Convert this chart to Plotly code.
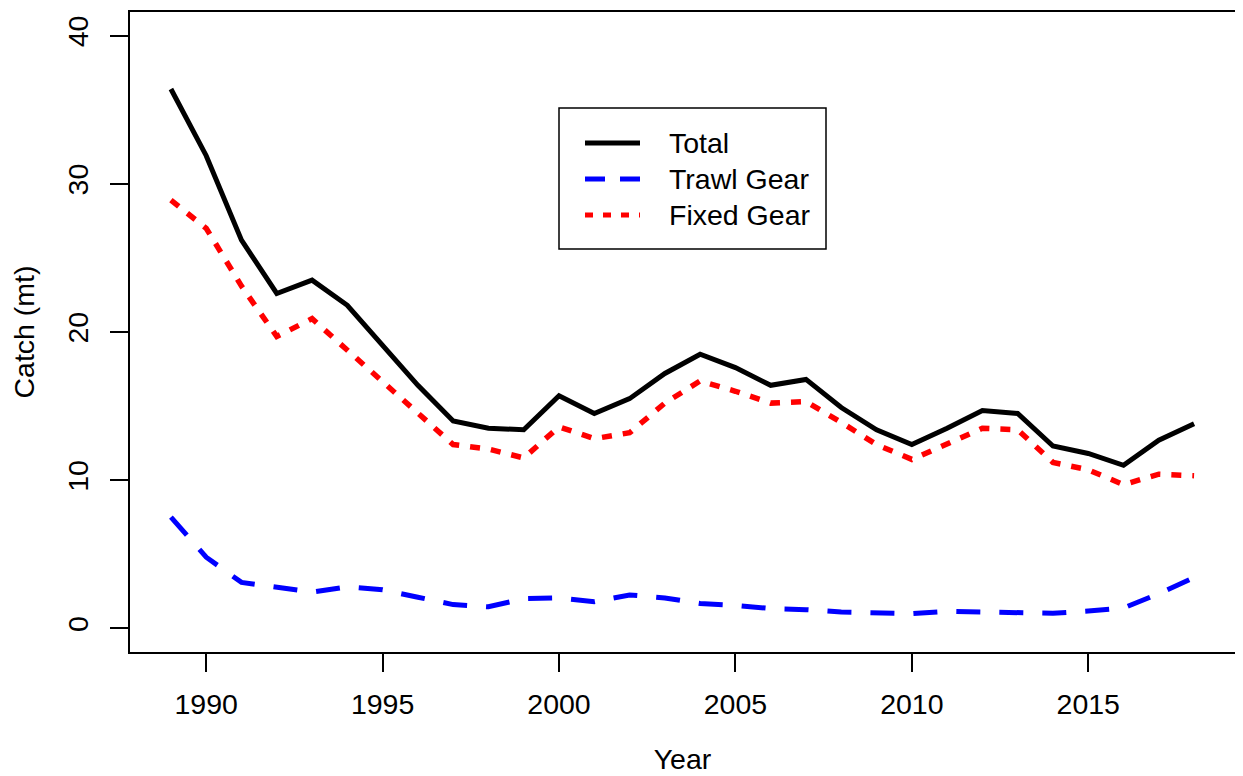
import plotly.graph_objects as go

# ---- data ----
years = list(range(1989, 2019))
total = [36.4, 31.9, 26.2, 22.6, 23.5, 21.8, 19.1, 16.4, 14.0, 13.5,
         13.4, 15.7, 14.5, 15.5, 17.2, 18.5, 17.6, 16.4, 16.8, 14.9,
         13.4, 12.4, 13.5, 14.7, 14.5, 12.3, 11.8, 11.0, 12.7, 13.8]
trawl = [7.5, 4.8, 3.1, 2.8, 2.45, 2.8, 2.6, 2.1, 1.6, 1.45,
         2.0, 2.05, 1.8, 2.25, 2.05, 1.67, 1.55, 1.33, 1.26, 1.10,
         1.06, 0.99, 1.15, 1.10, 1.06, 1.01, 1.17, 1.37, 2.34, 3.43]
fixed = [28.9, 27.0, 23.1, 19.7, 20.9, 18.8, 16.6, 14.5, 12.4, 12.1,
         11.5, 13.6, 12.8, 13.2, 15.2, 16.7, 16.0, 15.2, 15.3, 13.9,
         12.4, 11.4, 12.5, 13.5, 13.4, 11.2, 10.7, 9.7, 10.4, 10.3]
series_names = ["Total", "Trawl Gear", "Fixed Gear"]
x_ticks = [1990, 1995, 2000, 2005, 2010, 2015]
y_ticks = [0, 10, 20, 30, 40]

FONT = "Liberation Sans, Arial, sans-serif"
FS = 28.5

styles = [
    dict(color="black", width=5, dash="solid"),
    dict(color="blue", width=5, dash="24px,19px"),
    dict(color="red", width=5.5, dash="10px,11px"),
]
legend_dash = ["solid", "20px,15px", "8px,10px"]

fig = go.Figure()
for name, vals, st in zip(series_names, [total, trawl, fixed], styles):
    fig.add_trace(go.Scatter(x=years, y=vals, mode="lines", name=name,
                             line=st, showlegend=False))

# page body has an 8px margin, so the figure is drawn 8px in from the window corner
OFF = 8
W, H = 1243 - OFF, 776 - OFF
ml, mr, mt, mb = 130 - OFF, 8, 12 - OFF, 124
pw, ph = W - ml - mr, H - mt - mb


def px(xp):  # absolute window pixel -> paper x
    return (xp - OFF - ml) / pw


def py(yp):  # absolute window pixel -> paper y
    return (H - mb - (yp - OFF)) / ph


# custom legend box (R-style)
fig.add_shape(type="rect", xref="paper", yref="paper",
              x0=px(559), x1=px(826), y0=py(249), y1=py(108),
              line=dict(color="black", width=1.5), fillcolor="white", layer="above")
rows = [143, 179, 215]
for name, st, ld, yr in zip(series_names, styles, legend_dash, rows):
    fig.add_shape(type="line", xref="paper", yref="paper",
                  x0=px(585), x1=px(640), y0=py(yr), y1=py(yr),
                  line=dict(color=st["color"], width=5, dash=ld), layer="above")
    fig.add_annotation(xref="paper", yref="paper", x=px(667), y=py(yr),
                       text=name, showarrow=False, xanchor="left", yanchor="middle",
                       font=dict(family=FONT, size=FS, color="black"))

axis_common = dict(showgrid=False, zeroline=False, showline=True, mirror=True,
                   linecolor="black", linewidth=1.5, ticks="outside", ticklen=18,
                   tickwidth=1.5, tickcolor="black", automargin=False,
                   tickfont=dict(family=FONT, size=FS, color="black"))

fig.update_layout(
    width=W, height=H,
    margin=dict(l=ml, r=mr, t=mt, b=mb),
    paper_bgcolor="white", plot_bgcolor="white",
    xaxis=dict(range=[1987.84, 2019.16], tickvals=x_ticks,
               title=dict(text="Year", font=dict(family=FONT, size=FS, color="black"), standoff=30),
               ticklabelstandoff=8, **axis_common),
    yaxis=dict(range=[-1.6, 41.6], tickvals=y_ticks, tickangle=-90,
               title=dict(text="Catch (mt)", font=dict(family=FONT, size=FS, color="black"), standoff=20),
               ticklabelstandoff=11, **axis_common),
)

fig.write_html("out.html")
